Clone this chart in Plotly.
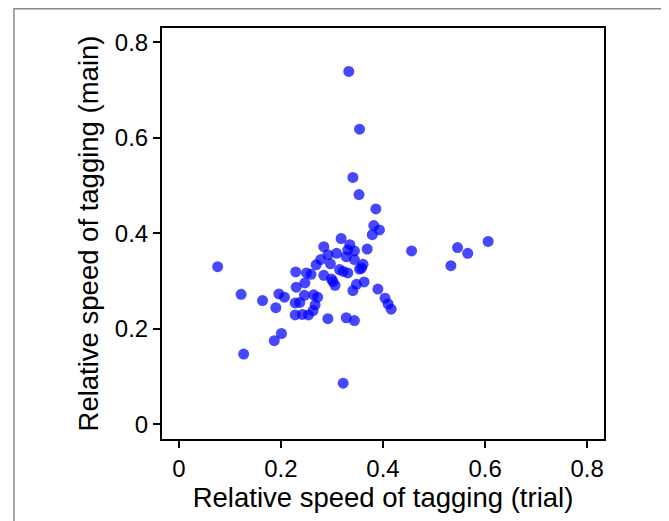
import plotly.graph_objects as go

trial = [0.333, 0.354, 0.341, 0.353, 0.386, 0.382, 0.393, 0.379, 0.318, 0.335,
         0.284, 0.344, 0.369, 0.456, 0.546, 0.566, 0.606, 0.533, 0.076, 0.309,
         0.328, 0.292, 0.278, 0.269, 0.297, 0.344, 0.361, 0.354, 0.315, 0.331,
         0.322, 0.229, 0.250, 0.259, 0.284, 0.299, 0.306, 0.230, 0.247, 0.348,
         0.363, 0.341, 0.390, 0.404, 0.410, 0.416, 0.122, 0.164, 0.190, 0.196,
         0.207, 0.246, 0.264, 0.272, 0.228, 0.237, 0.267, 0.263, 0.228, 0.242,
         0.254, 0.292, 0.328, 0.344, 0.201, 0.187, 0.127, 0.322, 0.331, 0.358,
         0.302]
main = [0.739, 0.618, 0.517, 0.481, 0.451, 0.416, 0.407, 0.397, 0.389, 0.376,
        0.372, 0.363, 0.367, 0.363, 0.370, 0.358, 0.383, 0.332, 0.330, 0.358,
        0.351, 0.355, 0.345, 0.334, 0.336, 0.345, 0.335, 0.325, 0.324, 0.317,
        0.320, 0.319, 0.317, 0.314, 0.312, 0.304, 0.291, 0.287, 0.296, 0.293,
        0.298, 0.280, 0.283, 0.264, 0.252, 0.241, 0.272, 0.259, 0.244, 0.273,
        0.266, 0.270, 0.271, 0.266, 0.254, 0.255, 0.250, 0.238, 0.229, 0.230,
        0.229, 0.221, 0.223, 0.217, 0.190, 0.175, 0.147, 0.086, 0.365, 0.327,
        0.299]

tick_vals = [0, 0.2, 0.4, 0.6, 0.8]
tick_text = ["0", "0.2", "0.4", "0.6", "0.8"]

FONT = "Liberation Sans, Arial, sans-serif"

fig = go.Figure()
fig.add_trace(go.Scatter(
    x=trial, y=main, mode="markers",
    marker=dict(color="rgb(0,0,255)", size=11, opacity=0.72, line=dict(width=0)),
    showlegend=False,
))

axis_common = dict(
    showgrid=False, zeroline=False,
    showline=True, linecolor="black", linewidth=2, mirror=True,
    ticks="outside", ticklen=7, tickwidth=2, tickcolor="black",
    tickvals=tick_vals, ticktext=tick_text,
    tickfont=dict(family=FONT, size=24, color="black"),
)

fig.update_xaxes(
    range=[-0.033, 0.833],
    title=dict(text="Relative speed of tagging (trial)",
               font=dict(family=FONT, size=27.5, color="black"), standoff=4),
    **axis_common,
)
fig.update_yaxes(
    range=[-0.031, 0.830],
    title=dict(text="Relative speed of tagging (main)",
               font=dict(family=FONT, size=27.5, color="black"), standoff=8),
    **axis_common,
)

fig.add_shape(type="rect", xref="paper", yref="paper",
              x0=-0.335, x1=1.1425, y0=-0.5, y1=1.0469,
              line=dict(color="#8a8a8a", width=1.5), layer="below")

fig.update_layout(
    width=669, height=521,
    margin=dict(l=154, r=73, t=20, b=90),
    paper_bgcolor="white", plot_bgcolor="white",
    font=dict(family=FONT, color="black"),
)

fig.write_html("out.html")
